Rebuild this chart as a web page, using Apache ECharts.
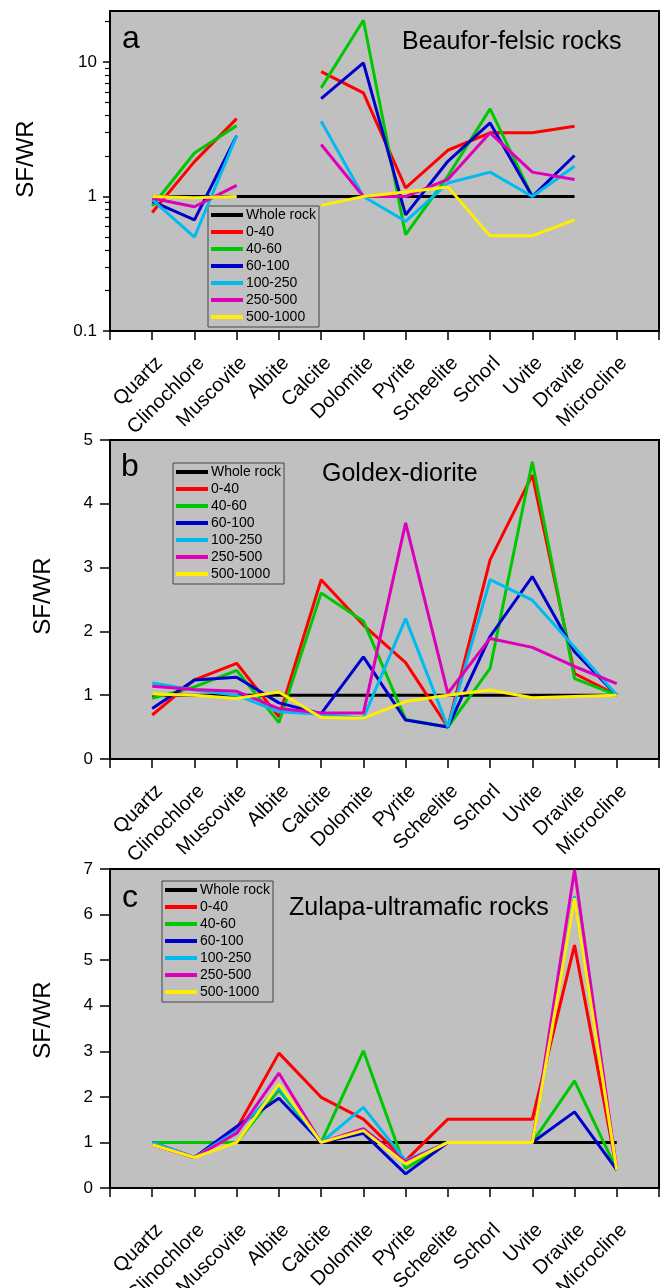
<!DOCTYPE html>
<html>
<head>
<meta charset="utf-8">
<script src="https://cdn.jsdelivr.net/npm/echarts@6/dist/echarts.min.js"></script>
<style>
html,body{margin:0;padding:0;background:#fff;}
#c{width:665px;height:1288px;}
</style>
</head>
<body>
<div id="c"></div>
<script>
const categories = ['Quartz','Clinochlore','Muscovite','Albite','Calcite','Dolomite','Pyrite','Scheelite','Schorl','Uvite','Dravite','Microcline'];
const seriesNames = ['Whole rock','0-40','40-60','60-100','100-250','250-500','500-1000'];
const seriesColors = ['#000000','#ff0000','#00c800','#0000cc','#00bbee','#dd00bb','#ffee00'];
const panelTitles = ['Beaufor-felsic rocks','Goldex-diorite','Zulapa-ultramafic rocks'];
const panelLetters = ['a','b','c'];
const logTicks = [0.1, 1, 10];
const logMinorTicks = [0.2,0.3,0.4,0.5,0.6,0.7,0.8,0.9,2,3,4,5,6,7,8,9,20];

// Panel a: Beaufor-felsic rocks (log scale); null = no data
const beauforWhole = [1,1,1,1,1,1,1,1,1,1,1,null];
const beaufor0_40 = [0.76,1.82,3.8,null,8.5,5.9,1.16,2.21,2.98,2.98,3.33,null];
const beaufor40_60 = [0.85,2.11,3.37,null,6.43,20.5,0.52,1.42,4.49,1.0,null,null];
const beaufor60_100 = [0.92,0.67,2.84,null,5.35,9.86,0.73,1.83,3.53,1.0,2.02,null];
const beaufor100_250 = [0.95,0.50,2.84,null,3.63,1.0,0.655,1.26,1.52,1.0,1.68,null];
const beaufor250_500 = [0.97,0.84,1.21,null,2.44,1.0,1.0,1.34,2.98,1.52,1.34,null];
const beaufor500_1000 = [1.0,0.98,1.0,null,0.86,1.0,1.08,1.18,0.51,0.51,0.67,null];

// Panel b: Goldex-diorite
const goldexWhole = [1,1,1,1,1,1,1,1,1,1,1,1];
const goldex0_40 = [0.69,1.24,1.50,0.66,2.81,2.10,1.51,0.50,3.12,4.45,1.34,1.0];
const goldex40_60 = [0.95,1.13,1.39,0.57,2.60,2.16,0.62,0.50,1.42,4.66,1.26,1.0];
const goldex60_100 = [0.79,1.24,1.28,0.88,0.71,1.60,0.61,0.50,1.92,2.86,1.68,1.0];
const goldex100_250 = [1.19,1.08,1.0,0.74,0.70,0.64,2.20,0.50,2.81,2.49,1.75,1.0];
const goldex250_500 = [1.14,1.09,1.06,0.79,0.72,0.72,3.70,1.03,1.89,1.75,1.45,1.18];
const goldex500_1000 = [1.02,1.0,0.95,1.05,0.65,0.64,0.90,1.0,1.08,0.96,0.98,1.0];

// Panel c: Zulapa-ultramafic rocks
const zulapaWhole = [1,1,1,1,1,1,1,1,1,1,1,1];
const zulapa0_40 = [0.95,0.67,1.30,2.96,1.99,1.51,0.60,1.51,1.51,1.51,5.33,0.40];
const zulapa40_60 = [1.0,1.0,1.0,2.15,1.0,3.01,0.43,1.0,1.0,1.0,2.35,0.40];
const zulapa60_100 = [1.0,0.67,1.35,1.97,1.0,1.20,0.31,1.0,1.0,1.0,1.67,0.40];
const zulapa100_250 = [1.0,0.67,1.25,2.20,1.0,1.77,0.60,1.0,1.0,1.0,6.40,0.40];
const zulapa250_500 = [0.95,0.67,1.20,2.52,1.0,1.30,0.58,1.0,1.0,1.0,6.98,0.40];
const zulapa500_1000 = [0.95,0.67,1.0,2.28,1.0,1.26,0.53,1.0,1.0,1.0,6.36,0.40];

const panelData = [
  [beauforWhole,beaufor0_40,beaufor40_60,beaufor60_100,beaufor100_250,beaufor250_500,beaufor500_1000],
  [goldexWhole,goldex0_40,goldex40_60,goldex60_100,goldex100_250,goldex250_500,goldex500_1000],
  [zulapaWhole,zulapa0_40,zulapa40_60,zulapa60_100,zulapa100_250,zulapa250_500,zulapa500_1000]
];

const FONT = '"Liberation Sans", Arial, sans-serif';
const gridTops = [11, 440, 869];
const gridHeight = 320;
const legendPos = [[208,206],[173,463],[162,881]];
const letterPos = [[122,23],[121,451],[122,882]];
const titlePos = [[402,30],[322,462],[289,896]];
const ylabelPos = [[26,159],[43,596],[43,1020]];
const xLabelMargins = [22, 22, 32];

const grids = [], xAxes = [], yAxes = [], series = [], legends = [], titles = [], graphics = [];

for (let p = 0; p < 3; p++) {
  grids.push({left:110, right:6, top:gridTops[p], height:gridHeight - (p>0?1:0), show:true,
    backgroundColor:'#c0c0c0', borderColor:'#000', borderWidth:2,
    containLabel:false, outerBoundsMode:'none'});
  xAxes.push({type:'value', gridIndex:p, min:-1, max:12, interval:1, position:'bottom',
    axisLine:{show:true, onZero:false, lineStyle:{color:'#000', width:2}}, splitLine:{show:false},
    axisTick:{show:true, inside:false, length:9, lineStyle:{color:'#000', width:1.5}},
    axisLabel:{show:true, rotate:45, margin:xLabelMargins[p], color:'#000', fontSize:20, fontFamily:FONT,
      verticalAlign:'top',
      formatter: v => (categories[v] !== undefined ? categories[v] : '')}
  });
  if (p === 0) {
    yAxes.push({type:'log', gridIndex:0, min:0.1, max:24, logBase:10, position:'left',
      axisLine:{show:true, onZero:false, lineStyle:{color:'#000', width:2}}, splitLine:{show:false},
      axisTick:{show:true, inside:false, length:7, customValues:logTicks, lineStyle:{color:'#000', width:1.5}},
      axisLabel:{show:true, customValues:logTicks, margin:13, color:'#000', fontSize:17, fontFamily:FONT,
        formatter: v => (v < 0.5 ? '0.1' : String(Math.round(v)))}
    });
  } else {
    yAxes.push({type:'value', gridIndex:p, min:0, max:(p===1?5:7), interval:1, position:'left',
      axisLine:{show:true, onZero:false, lineStyle:{color:'#000', width:2}}, splitLine:{show:false},
      axisTick:{show:true, inside:false, length:10, lineStyle:{color:'#000', width:1.5}},
      axisLabel:{show:true, margin:17, color:'#000', fontSize:17, fontFamily:FONT}
    });
  }
}
// minor ticks for the log axis of panel a
yAxes.push({type:'log', gridIndex:0, min:0.1, max:24, logBase:10, position:'left', offset:0,
  axisLine:{show:false, onZero:false}, splitLine:{show:false}, axisLabel:{show:false},
  axisTick:{show:true, inside:false, length:5, customValues:logMinorTicks, lineStyle:{color:'#000', width:1.2}}
});

for (let p = 0; p < 3; p++) {
  for (let s = 0; s < seriesNames.length; s++) {
    series.push({
      type:'line', name:seriesNames[s], xAxisIndex:p, yAxisIndex:p,
      data: panelData[p][s].map((v,i) => [i, v === null ? '-' : v]),
      showSymbol:false, symbol:'none', connectNulls:false, smooth:false,
      lineStyle:{color:seriesColors[s], width:3}, itemStyle:{color:seriesColors[s]},
      z: 2 + s, silent:true
    });
  }
  legends.push({
    orient:'vertical', left:legendPos[p][0], top:legendPos[p][1],
    data: seriesNames, icon:'rect', itemWidth:32, itemHeight:4, itemGap:3,
    padding:[2,3,3,3], borderColor:'#444', borderWidth:1, backgroundColor:'transparent',
    textStyle:{color:'#000', fontSize:14, fontFamily:FONT, padding:[0,0,0,-2]},
    selectedMode:false
  });
  titles.push({text:panelLetters[p], left:letterPos[p][0], top:letterPos[p][1], padding:0,
    textStyle:{fontSize:32, fontWeight:'normal', color:'#000', fontFamily:FONT}});
  titles.push({text:panelTitles[p], left:titlePos[p][0], top:titlePos[p][1], padding:0,
    textStyle:{fontSize:25, fontWeight:'normal', color:'#000', fontFamily:FONT}});
  graphics.push({type:'text', x:ylabelPos[p][0], y:ylabelPos[p][1], rotation:Math.PI/2,
    style:{text:'SF/WR', font:'24px ' + FONT, fill:'#000', textAlign:'center', textVerticalAlign:'middle'}});
}

const chart = echarts.init(document.getElementById('c'), null, {renderer:'canvas'});
chart.setOption({
  animation:false,
  backgroundColor:'#fff',
  textStyle:{fontFamily:FONT},
  title:titles, grid:grids, xAxis:xAxes, yAxis:yAxes, series:series, legend:legends, graphic:graphics
});
</script>
</body>
</html>
